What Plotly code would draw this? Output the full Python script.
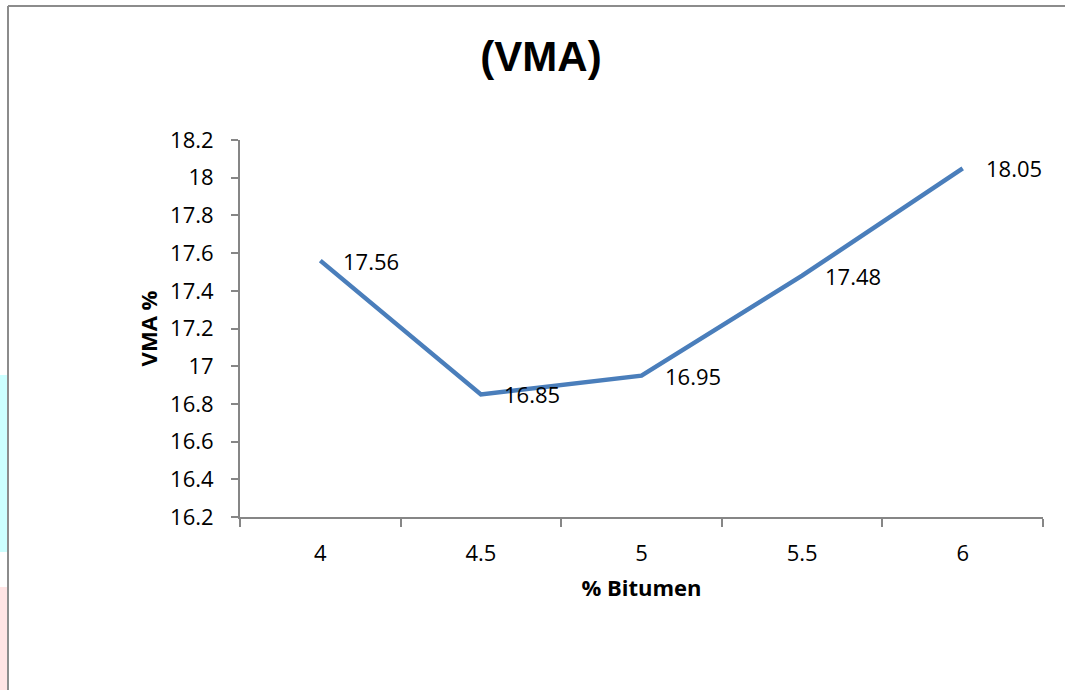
import plotly.graph_objects as go

# Bitumen content (%) and VMA (%)
bitumen = ["4", "4.5", "5", "5.5", "6"]
vma = [17.56, 16.85, 16.95, 17.48, 18.05]
y_ticks = [16.2, 16.4, 16.6, 16.8, 17.0, 17.2, 17.4, 17.6, 17.8, 18.0, 18.2]
y_tick_labels = ["16.2", "16.4", "16.6", "16.8", "17", "17.2", "17.4", "17.6", "17.8", "18", "18.2"]

W, H = 1065, 690
L, R, T, B = 240, 22, 140, 173
pw, ph = W - L - R, H - T - B


def px_x(x):
    return (x - L) / pw


def px_y(y):
    return (H - B - y) / ph


FONT = "Open Sans, Noto Sans, sans-serif"
AXIS_GRAY = "#868686"

fig = go.Figure()
fig.add_trace(go.Scatter(
    x=bitumen, y=vma, mode="lines",
    line=dict(color="#4A7EBB", width=4.5),
    showlegend=False, hoverinfo="x+y",
))

# value labels to the right of each point (category axis -> position index)
annotations = [
    dict(x=i, y=v, xref="x", yref="y", text=f"{v:.2f}", showarrow=False,
         xanchor="left", yanchor="middle", xshift=21, yshift=0,
         font=dict(family=FONT, size=22, color="#000000"))
    for i, v in enumerate(vma)
]

shapes = [
    # outer chart border (left and top)
    dict(type="line", xref="paper", yref="paper", x0=px_x(8), x1=px_x(8),
         y0=px_y(6), y1=px_y(H + 5), line=dict(color="#8C8C8C", width=2)),
    dict(type="line", xref="paper", yref="paper", x0=px_x(8), x1=px_x(W + 5),
         y0=px_y(6), y1=px_y(6), line=dict(color="#8C8C8C", width=2)),
    # coloured strips at the left edge
    dict(type="rect", xref="paper", yref="paper", x0=px_x(0), x1=px_x(7),
         y0=px_y(375), y1=px_y(552), fillcolor="#CCFFFF", line=dict(width=0), layer="below"),
    dict(type="rect", xref="paper", yref="paper", x0=px_x(0), x1=px_x(7),
         y0=px_y(587), y1=px_y(H + 5), fillcolor="#FFE4E4", line=dict(width=0), layer="below"),
]

fig.update_layout(
    width=W, height=H,
    margin=dict(l=L, r=R, t=T, b=B),
    paper_bgcolor="white", plot_bgcolor="white",
    font=dict(family=FONT, color="#000000"),
    title=dict(text="<b>(VMA)</b>", x=541 / W, xanchor="center",
               y=1 - 56 / H, yanchor="middle",
               font=dict(family="Liberation Sans, Arial, sans-serif", size=42, color="#000000")),
    shapes=shapes,
    annotations=annotations,
    xaxis=dict(
        type="category", range=[-0.5, 4.5],
        showline=True, linecolor=AXIS_GRAY, linewidth=2,
        ticks="outside", tickson="boundaries", ticklen=8, tickcolor=AXIS_GRAY, tickwidth=2,
        ticklabelstandoff=16,
        showgrid=False, zeroline=False,
        tickfont=dict(family=FONT, size=22, color="#000000"),
        title=dict(text="<b>% Bitumen</b>", standoff=14,
                   font=dict(family=FONT, size=22, color="#000000")),
    ),
    yaxis=dict(
        range=[16.2, 18.2], tickvals=y_ticks, ticktext=y_tick_labels,
        showline=True, linecolor=AXIS_GRAY, linewidth=2,
        ticks="outside", ticklen=7, tickcolor=AXIS_GRAY, tickwidth=2,
        ticklabelstandoff=13,
        showgrid=False, zeroline=False,
        tickfont=dict(family=FONT, size=22, color="#000000"),
        title=dict(text="<b>VMA %</b>", standoff=6,
                   font=dict(family=FONT, size=22, color="#000000")),
    ),
)

fig.write_html("out.html")
